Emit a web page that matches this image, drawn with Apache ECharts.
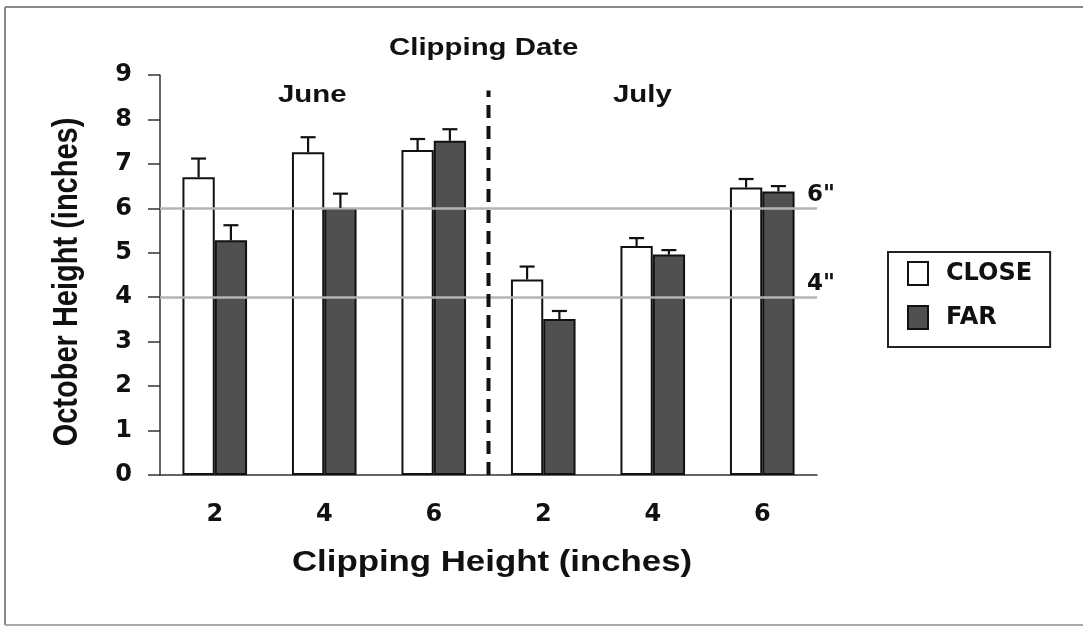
<!DOCTYPE html>
<html>
<head>
<meta charset="utf-8">
<script src="https://cdn.jsdelivr.net/npm/echarts@6/dist/echarts.min.js"></script>
<style>
html,body{margin:0;padding:0;background:#fff;}
#chart{width:1083px;height:626px;}
</style>
</head>
<body>
<div id="chart"></div>
<script>
const categories = ['2', '4', '6', '2', '4', '6'];
const closeValues = [6.70, 7.26, 7.31, 4.40, 5.15, 6.47];
const farValues = [5.28, 6.01, 7.52, 3.51, 4.96, 6.38];
const closeErr = [0.42, 0.34, 0.25, 0.29, 0.18, 0.19];
const farErr = [0.34, 0.32, 0.26, 0.18, 0.10, 0.12];
const yTicks = [0, 1, 2, 3, 4, 5, 6, 7, 8, 9];
const refLines = [{ value: 6, label: '6"' }, { value: 4, label: '4"' }];
const dateDivider = [[3, 0], [3, 8.65]];

const FONT = '"Liberation Sans", Arial, sans-serif';
const WIDE = '"DejaVu Sans", sans-serif';
const GAP = 0.41;
const STRETCH = 1.2;

function errSeries(name, values, errs, side) {
  return {
    name: name + ' err',
    type: 'custom',
    xAxisIndex: 0, yAxisIndex: 0,
    silent: true,
    z: 5,
    data: values.map((v, i) => [i, v, errs[i]]),
    renderItem: function (params, api) {
      const i = api.value(0);
      const v = api.value(1);
      const e = api.value(2);
      const band = api.size([1, 0])[0];
      const barW = band * (1 - GAP) / 2;
      const base = api.coord([i, v]);
      const top = api.coord([i, v + e]);
      const x = base[0] + side * barW / 2;
      const cap = 7.5;
      return {
        type: 'group',
        children: [
          { type: 'line', shape: { x1: x, y1: base[1], x2: x, y2: top[1] }, style: { stroke: '#111', lineWidth: 2.2 } },
          { type: 'line', shape: { x1: x - cap, y1: top[1], x2: x + cap, y2: top[1] }, style: { stroke: '#111', lineWidth: 2.2 } }
        ]
      };
    }
  };
}

function label(text, x, y, size, opts) {
  opts = opts || {};
  return {
    type: 'text', x: x, y: y,
    rotation: opts.rotation || 0,
    scaleX: opts.scaleX || STRETCH,
    scaleY: opts.scaleY || 1,
    silent: true,
    style: { text: text, x: 0, y: 0, font: 'bold ' + size + 'px ' + FONT, fill: '#111',
      textAlign: opts.align || 'left', textVerticalAlign: 'middle' }
  };
}

const chart = echarts.init(document.getElementById('chart'), null, { renderer: 'canvas' });
chart.setOption({
  backgroundColor: '#fff',
  animation: false,
  grid: { left: 160, right: 266, top: 75, bottom: 151, containLabel: false },
  legend: {
    orient: 'vertical',
    left: 888, top: 252,
    padding: [9, 18, 17, 19],
    itemGap: 19,
    itemWidth: 20, itemHeight: 23,
    borderColor: '#222', borderWidth: 2,
    icon: 'rect',
    textStyle: { fontFamily: WIDE, fontWeight: 'bold', fontSize: 24, color: '#111', padding: [0, 0, 0, 13] },
    data: [
      { name: 'CLOSE', itemStyle: { color: '#fff', borderColor: '#111', borderWidth: 2 } },
      { name: 'FAR', itemStyle: { color: '#505050', borderColor: '#111', borderWidth: 2 } }
    ]
  },
  xAxis: [{
    type: 'category',
    data: categories,
    axisLine: { lineStyle: { color: '#333', width: 1.5 } },
    axisTick: { length: 8, lineStyle: { color: '#333', width: 1.5 } },
    axisLabel: { fontFamily: WIDE, fontWeight: 'bold', fontSize: 24, color: '#111', margin: 28 }
  }, {
    type: 'value', min: 0, max: 6, show: false
  }],
  yAxis: {
    type: 'value',
    min: 0, max: 9, interval: 1,
    axisLine: { show: true, lineStyle: { color: '#333', width: 1.5 } },
    axisTick: { show: true, length: 12, lineStyle: { color: '#333', width: 1.5 } },
    splitLine: { show: false },
    axisLabel: { fontFamily: WIDE, fontWeight: 'bold', fontSize: 24, color: '#111', margin: 28,
      formatter: v => yTicks.includes(v) ? String(v) : '' }
  },
  series: [
    {
      name: 'CLOSE', type: 'bar',
      data: closeValues,
      barGap: '0%', barCategoryGap: (GAP * 100) + '%',
      itemStyle: { color: '#fff', borderColor: '#111', borderWidth: 2 },
      z: 3,
      markLine: {
        silent: true, symbol: 'none',
        lineStyle: { color: '#b4b4b4', width: 2.5, type: 'solid' },
        label: { show: true, position: 'end', distance: 0, offset: [-10, -13],
          fontFamily: WIDE, fontWeight: 'bold', fontSize: 23, color: '#111',
          formatter: p => p.name },
        data: refLines.map(r => ({ yAxis: r.value, name: r.label }))
      }
    },
    {
      name: 'FAR', type: 'bar',
      data: farValues,
      barGap: '0%', barCategoryGap: (GAP * 100) + '%',
      itemStyle: { color: '#505050', borderColor: '#111', borderWidth: 2 },
      z: 3
    },
    errSeries('CLOSE', closeValues, closeErr, -1),
    errSeries('FAR', farValues, farErr, 1),
    {
      name: 'divider', type: 'line',
      xAxisIndex: 1, yAxisIndex: 0,
      data: dateDivider,
      symbol: 'none', silent: true, z: 6,
      lineStyle: { color: '#111', width: 4, type: [13, 8] }
    }
  ],
  graphic: [
    { type: 'line', shape: { x1: 5, y1: 7, x2: 1083, y2: 7 }, style: { stroke: '#888', lineWidth: 2 } },
    { type: 'line', shape: { x1: 5, y1: 7, x2: 5, y2: 625 }, style: { stroke: '#888', lineWidth: 2 } },
    { type: 'line', shape: { x1: 5, y1: 625, x2: 1083, y2: 625 }, style: { stroke: '#aaa', lineWidth: 2 } },
    label('Clipping Date', 389, 48, 24.5),
    label('June', 278, 95, 24.5),
    label('July', 613, 95, 24.5),
    label('Clipping Height (inches)', 492, 563, 29, { align: 'center' }),
    label('October Height (inches)', 67, 282, 29, { align: 'center', rotation: Math.PI / 2, scaleX: 1, scaleY: STRETCH })
  ]
});
</script>
</body>
</html>
